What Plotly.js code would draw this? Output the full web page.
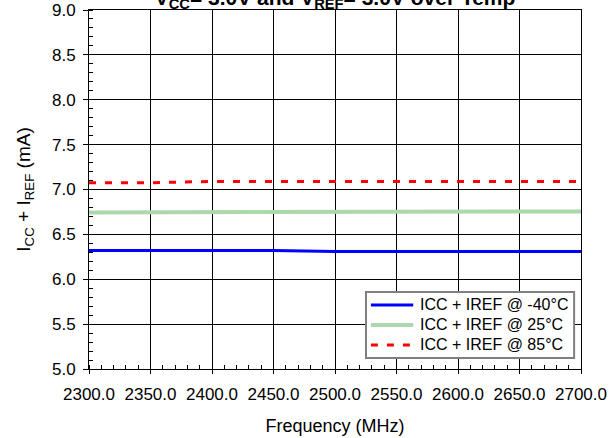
<!DOCTYPE html>
<html>
<head>
<meta charset="utf-8">
<script src="https://cdn.plot.ly/plotly-3.0.1.min.js"></script>
<style>html,body{margin:0;padding:0;background:#fff;}</style>
</head>
<body>
<div id="chart" style="width:616px;height:438px;"></div>
<script>
const frequency = [2300, 2350, 2400, 2450, 2500, 2550, 2600, 2650, 2700];
const iccMinus40 = [6.32, 6.32, 6.32, 6.32, 6.31, 6.31, 6.31, 6.31, 6.31];
const icc25 = [6.745, 6.745, 6.745, 6.755, 6.755, 6.755, 6.755, 6.755, 6.755];
const icc85 = [7.075, 7.075, 7.09, 7.09, 7.09, 7.09, 7.09, 7.09, 7.09];
const seriesNames = ['ICC + IREF @ -40°C', 'ICC + IREF @ 25°C', 'ICC + IREF @ 85°C'];

const font = 'Arial, "Liberation Sans", sans-serif';
const lineStyles = [
  {color: '#0000ff', width: 3},
  {color: '#acd8ac', width: 4},
  {color: '#ff0000', width: 3, dash: '7px,9px'}
];
const seriesValues = [iccMinus40, icc25, icc85];

const traces = seriesValues.map((vals, i) => ({
  x: frequency, y: vals, name: seriesNames[i], mode: 'lines',
  line: lineStyles[i], showlegend: false
}));

// Manual legend (box + sample lines + labels) in paper coordinates
const legBox = {x0: 0.563, x1: 0.986, y0: 0.0306, y1: 0.2145};
const legRows = [0.1783, 0.1226, 0.0669];
const shapes = [{
  type: 'rect', xref: 'paper', yref: 'paper',
  x0: legBox.x0, x1: legBox.x1, y0: legBox.y0, y1: legBox.y1,
  line: {color: '#808080', width: 2}, fillcolor: '#ffffff', layer: 'above'
}];
const annotations = [];
seriesNames.forEach((name, i) => {
  shapes.push({
    type: 'line', xref: 'paper', yref: 'paper',
    x0: 0.573, x1: 0.659, y0: legRows[i], y1: legRows[i],
    line: lineStyles[i], layer: 'above'
  });
  annotations.push({
    xref: 'paper', yref: 'paper', x: 0.6687, y: legRows[i],
    xanchor: 'left', yanchor: 'middle', showarrow: false,
    text: name, font: {family: font, size: 16, color: '#000'}
  });
});

const layout = {
  width: 616, height: 438,
  margin: {l: 89, r: 35, t: 10, b: 69},
  paper_bgcolor: '#ffffff', plot_bgcolor: '#ffffff',
  font: {family: font, color: '#000', size: 17},
  title: {
    text: '<b>V<sub>CC</sub>= 3.0V and V<sub>REF</sub>= 3.0V over Temp</b>',
    font: {family: font, size: 21, color: '#000'},
    x: 0.5, xref: 'paper', xanchor: 'center',
    y: 1.004, yref: 'paper', yanchor: 'bottom', pad: {t: 0, b: 0}
  },
  xaxis: {
    range: [2300, 2700], dtick: 50, tick0: 2300, tickformat: '.1f',
    showgrid: true, gridcolor: '#000', gridwidth: 1,
    showline: true, linecolor: '#000', linewidth: 1, mirror: true,
    ticks: 'outside', ticklen: 4, tickcolor: '#000',
    ticklabelstandoff: 6,
    tickfont: {size: 17},
    zeroline: false, fixedrange: true,
    minor: {dtick: 10, ticks: 'inside', ticklen: 4, tickcolor: '#000', showgrid: false},
    title: {text: 'Frequency (MHz)', font: {size: 18}, standoff: 15}
  },
  yaxis: {
    range: [5, 9], dtick: 0.5, tick0: 5, tickformat: '.1f',
    showgrid: true, gridcolor: '#000', gridwidth: 1,
    showline: true, linecolor: '#000', linewidth: 1, mirror: true,
    ticks: 'outside', ticklen: 5, tickcolor: '#000',
    ticklabelstandoff: 4,
    tickfont: {size: 17},
    zeroline: false, fixedrange: true,
    minor: {dtick: 0.1, ticks: 'inside', ticklen: 4, tickcolor: '#000', showgrid: false},
    title: {text: 'I<sub>CC</sub> + I<sub>REF</sub> (mA)', font: {size: 19}, standoff: 16}
  },
  shapes: shapes,
  annotations: annotations,
  showlegend: false
};

Plotly.newPlot('chart', traces, layout, {staticPlot: true, displayModeBar: false});
</script>
</body>
</html>
